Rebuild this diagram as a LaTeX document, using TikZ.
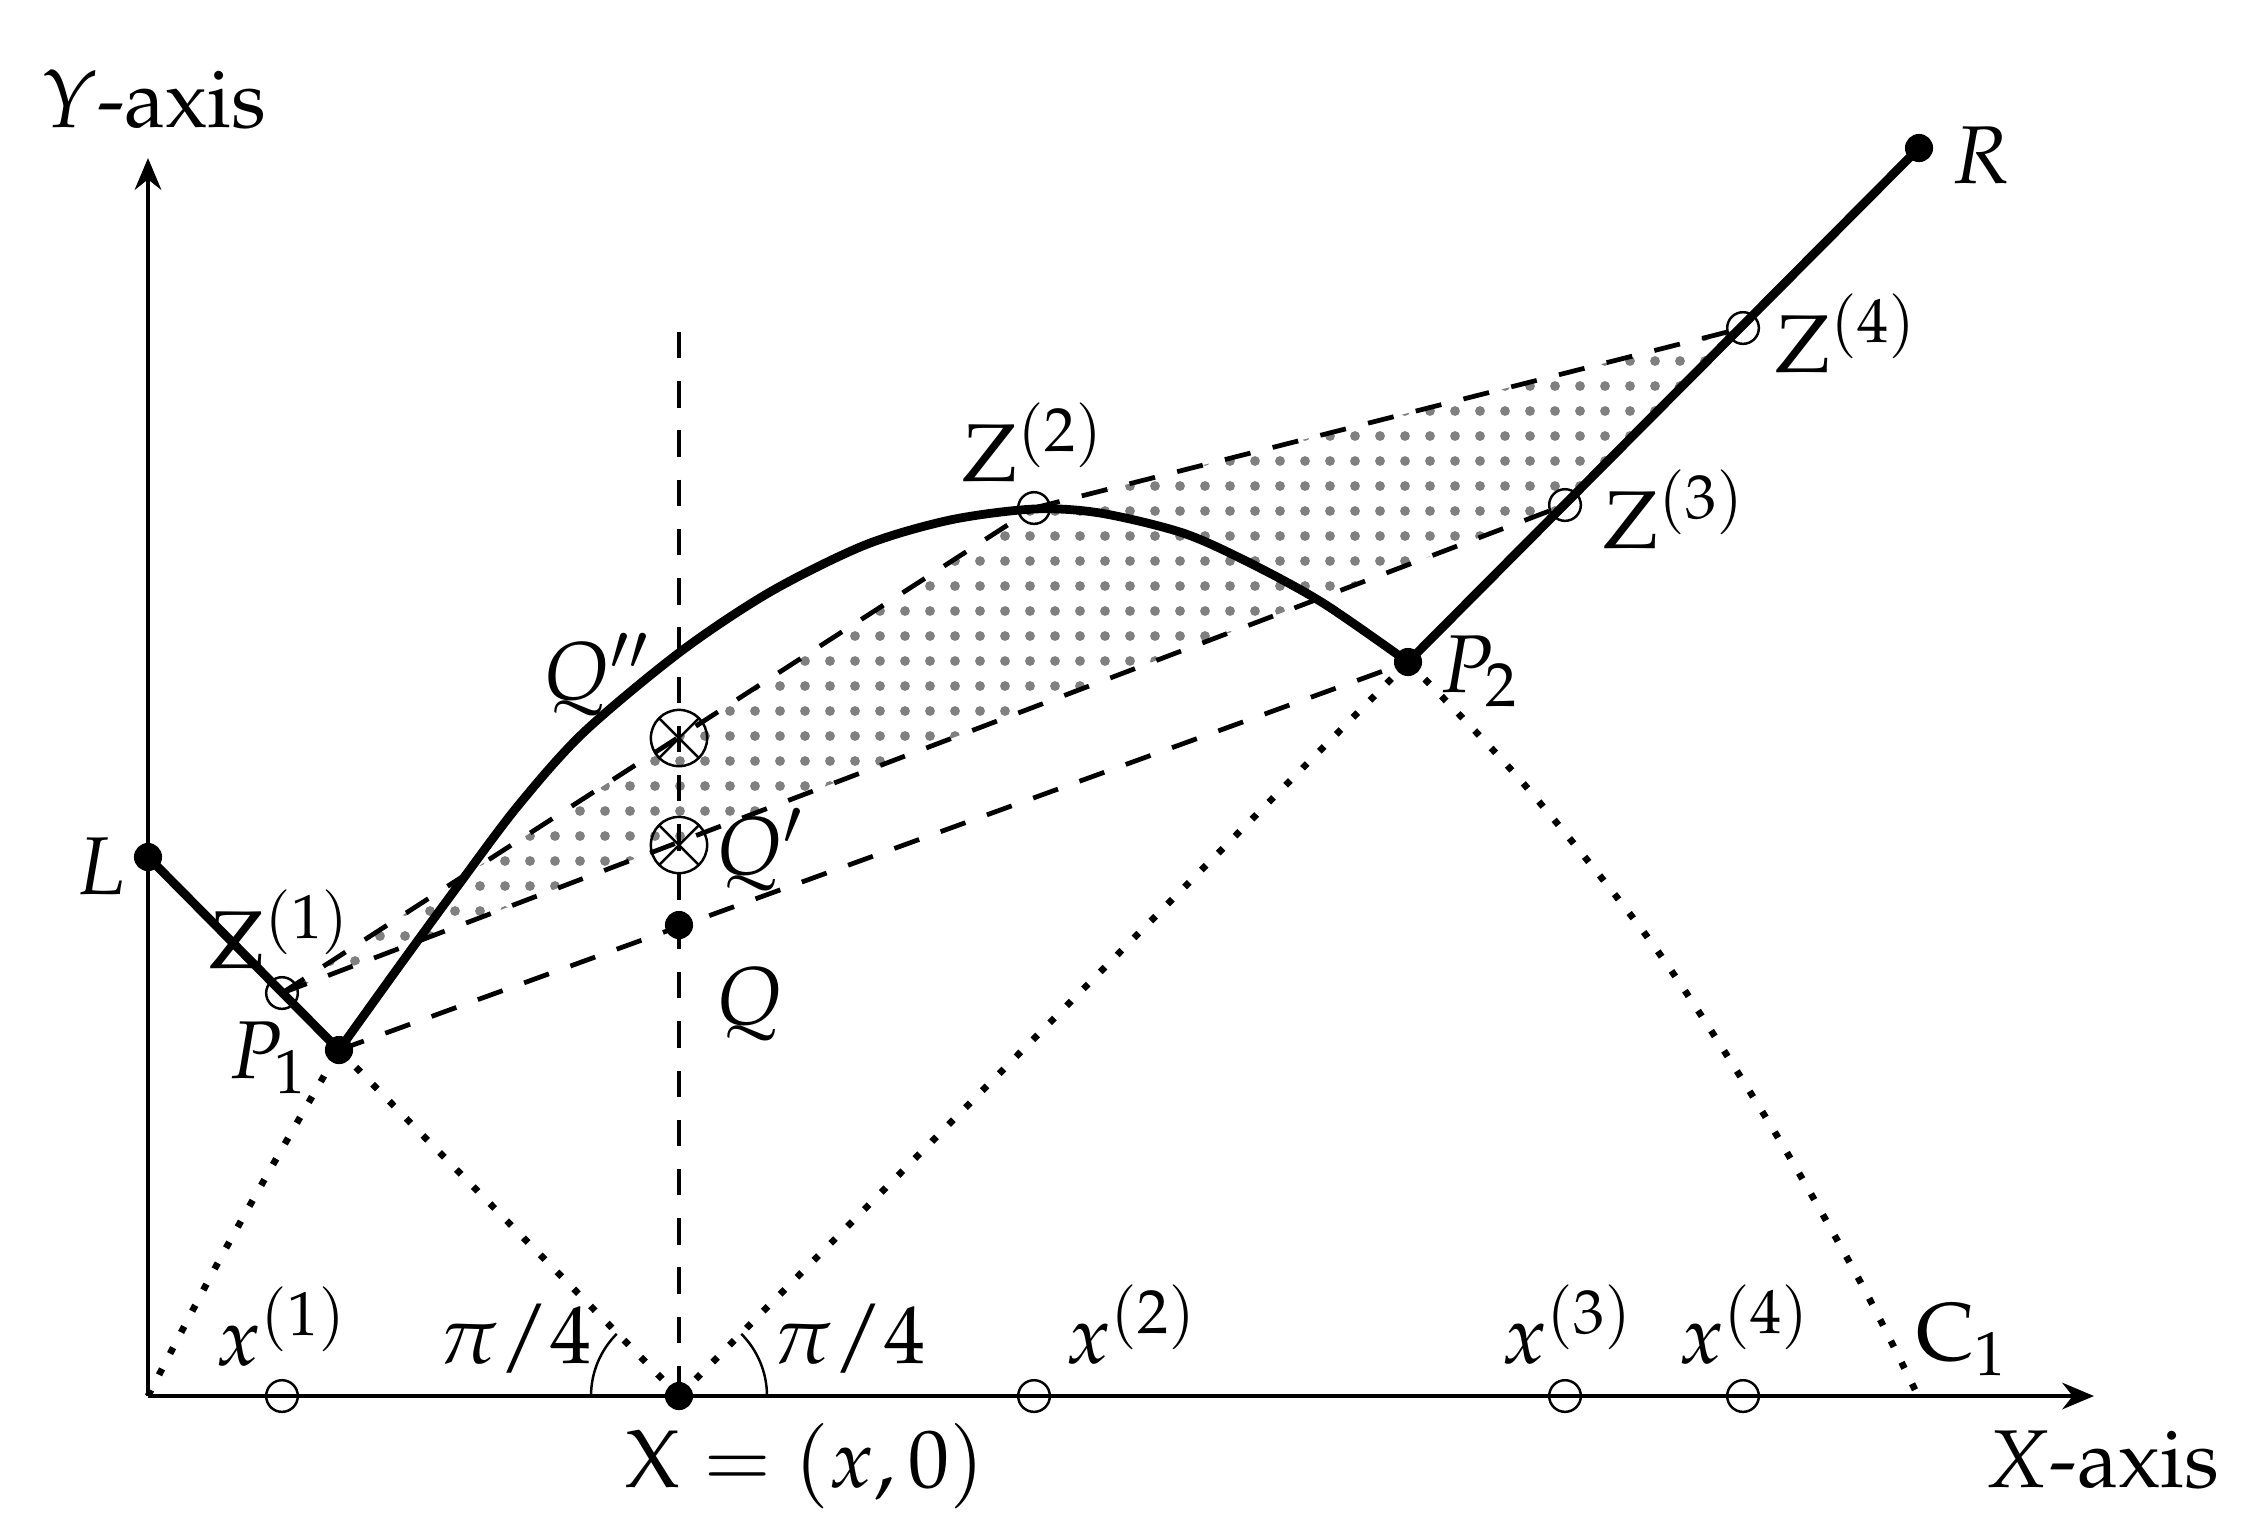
\documentclass[tikz,border=0pt]{standalone}
\usepackage[T1]{fontenc}
\usepackage{mathpazo}
\usetikzlibrary{arrows.meta,calc}
\begin{document}
\begin{tikzpicture}[x=0.01cm,y=-0.01cm,
  thickline/.style={line width=2.5pt, line join=round},
  axisline/.style={line width=1.4pt},
  dashline/.style={line width=1.35pt, dash pattern=on 7.5pt off 6.5pt},
  dotline/.style={line width=1.9pt, dash pattern=on 1.9pt off 4.9pt},
  thinline/.style={line width=0.7pt},
  lab/.style={inner sep=0pt, font=\fontsize{23.3}{28}\selectfont, anchor=base west},
  fdot/.style={circle, fill, inner sep=0pt, minimum size=8pt},
  odot/.style={circle, draw, line width=0.7pt, inner sep=0pt, minimum size=9pt},
  arr/.style={-{Stealth[length=9pt,width=7.5pt]}}
]
\useasboundingbox (0,0) rectangle (2261,1532);

% key points
\coordinate (O) at (148,1396);
\coordinate (E) at (1918,1396);
\coordinate (Ytop) at (148,158);
\coordinate (Xend) at (2094,1396);
\coordinate (L) at (148,857);
\coordinate (P1) at (339,1050);
\coordinate (P2) at (1408,662);
\coordinate (R) at (1919,148);
\coordinate (Z1) at (282,993);
\coordinate (Z2) at (1034,508);
\coordinate (Z3) at (1565,505);
\coordinate (Z4) at (1743,328);
\coordinate (X) at (679,1396);
\coordinate (Q) at (679,925);
\coordinate (Qp) at (679,845);
\coordinate (Qs) at (679,738);
\coordinate (Vtop) at (679,332);
\coordinate (x1) at (282,1396);
\coordinate (x2) at (1034,1396);
\coordinate (x3) at (1565,1396);
\coordinate (x4) at (1743,1396);

% dotted gray pattern region
\begin{scope}
  \clip (Z1) -- (Z2) -- (Z4) -- (Z3) -- cycle;
  \foreach \i in {0,...,59} {
    \foreach \j in {0,...,28} {
      \fill[black!50] ({280+25*\i},{311+25*\j}) circle (1.4pt);
    }
  }
\end{scope}

% axes
\draw[axisline,arr] (O) -- (Ytop);
\draw[axisline,arr] (O) -- (Xend);

% dashed lines
\draw[dashline] (P1) -- (P2);
\draw[dashline] (Z1) -- (Z2);
\draw[dashline] (Z2) -- (Z4);
\draw[dashline] (Z1) -- (Z3);
\draw[dashline] (Vtop) -- (X);

% dotted curve C1 and dotted lines from X
\draw[dotline] plot[smooth] coordinates {(148,1396) (214,1270) (271,1168) (339,1050)};
\draw[dotline] plot[smooth] coordinates {(1408,662) (1523,783) (1654,946) (1768,1121) (1861,1283) (1918,1396)};
\draw[dotline] (X) -- (P1);
\draw[dotline] (X) -- (P2);

% thick solid lines
\draw[thickline] (L) -- (P1);
\draw[thickline] (P2) -- (R);
\draw[thickline] plot[smooth, tension=0.5] coordinates {(339,1050) (400,965) (457,887) (517,807) (583,733) (680,652) (770,592) (865,545) (950,520) (1034,509) (1100,513) (1183,533) (1250,563) (1323,603) (1408,662)};

% angle arcs
\draw[thinline] (591,1396) arc[start angle=180, end angle=135, radius=25pt];
\draw[thinline] (767,1396) arc[start angle=0, end angle=45, radius=25pt];

% filled points
\node[fdot] (nL) at (L) {};
\node[fdot] (nP1) at (P1) {};
\node[fdot] (nP2) at (P2) {};
\node[fdot] (nR) at (R) {};
\node[fdot] (nQ) at (Q) {};
\node[fdot] (nX) at (X) {};

% open points
\node[odot] (nZ1) at (Z1) {};
\node[odot] (nZ2) at (Z2) {};
\node[odot] (nZ3) at (Z3) {};
\node[odot] (nZ4) at (Z4) {};
\node[odot] (nx1) at (x1) {};
\node[odot] (nx2) at (x2) {};
\node[odot] (nx3) at (x3) {};
\node[odot] (nx4) at (x4) {};

% otimes marks
\foreach \p in {Qs,Qp} {
  \draw[thinline] (\p) circle (8pt);
  \draw[thinline] ($(\p)+(45:8pt)$) -- ($(\p)+(225:8pt)$);
  \draw[thinline] ($(\p)+(135:8pt)$) -- ($(\p)+(315:8pt)$);
}

% labels
\node[lab] (lY) at (40,127) {$Y$-axis};
\node[lab] (lL) at (75,894) {$L$};
\node[lab] (lZ1) at (209,968) {$\mathrm{Z}^{(1)}$};
\node[lab] (lP1) at (228,1078) {$P_1$};
\node[lab] (lQs) at (542,699) {$Q''$};
\node[lab] (lQp) at (715,874) {$Q'$};
\node[lab] (lQ) at (715,1024) {$Q$};
\node[lab] (lZ2) at (962,481) {$\mathrm{Z}^{(2)}$};
\node[lab] (lZ3) at (1603,548) {$\mathrm{Z}^{(3)}$};
\node[lab] (lZ4) at (1775,372) {$\mathrm{Z}^{(4)}$};
\node[lab] (lR) at (1951,183) {$R$};
\node[lab] (lP2) at (1439,692) {$P_2$};
\node[lab] (lx1) at (215,1365) {$x^{(1)}$};
\node[lab] (la1) at (438,1363) {$\pi/4$};
\node[lab] (la2) at (772,1363) {$\pi/4$};
\node[lab] (lx2) at (1065,1363) {$x^{(2)}$};
\node[lab] (lx3) at (1501,1363) {$x^{(3)}$};
\node[lab] (lx4) at (1678,1363) {$x^{(4)}$};
\node[lab] (lC1) at (1916,1360) {$\mathrm{C}_1$};
\node[lab] (lX) at (625,1487) {$\mathrm{X}=(x,0)$};
\node[lab] (lXa) at (1985,1487) {$X$-axis};
\end{tikzpicture}
\end{document}
